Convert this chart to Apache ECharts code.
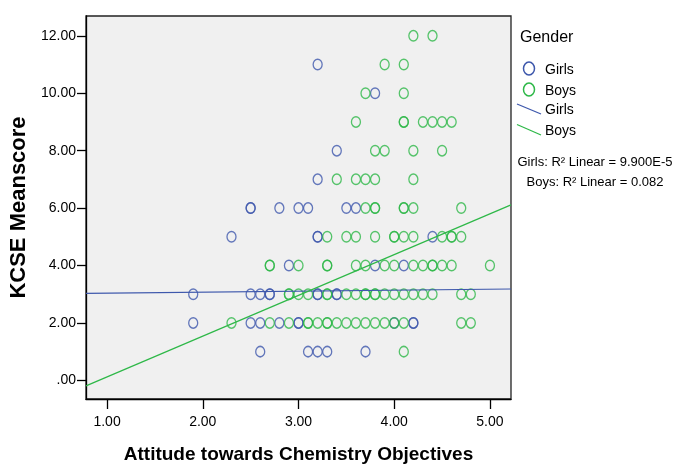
<!DOCTYPE html>
<html lang="en">
  <head>
    <meta charset="UTF-8" />
    <title>KCSE Meanscore by Attitude</title>
    <script src="https://cdn.jsdelivr.net/npm/echarts@6/dist/echarts.min.js"></script>
    <style>
      body { margin: 0; background: #fff; }
    </style>
  </head>
  <body>
    <div id="main" style="width: 680px; height: 467px"></div>
    <script type="text/javascript">
      // axis ranges and tick labels
      const xRange = [0.78, 5.22];
      const yRange = [-0.65, 12.69];
      const xTicks = [1, 2, 3, 4, 5];
      const yTicks = [0, 2, 4, 6, 8, 10, 12];

      // KCSE meanscore rows, and attitude values of the students on each row
      const scores = [1, 2, 3, 4, 5, 6, 7, 8, 9, 10, 11, 12];
      const girlsAttitude = [
        [2.6, 3.1, 3.2, 3.3, 3.7],
        [1.9, 2.5, 2.6, 2.8, 3.0, 3.0, 4.0, 4.2, 4.2],
        [1.9, 2.5, 2.6, 2.7, 2.7, 3.2, 3.2, 3.4, 3.4],
        [2.9, 3.8, 4.1],
        [2.3, 3.2, 3.2, 4.4],
        [2.5, 2.5, 2.8, 3.0, 3.1, 3.5, 3.6],
        [3.2],
        [3.4],
        [],
        [3.8],
        [3.2],
        [],
      ];
      const boysAttitude = [
        [4.1],
        [2.3, 2.7, 2.9, 3.1, 3.1, 3.2, 3.3, 3.3, 3.4, 3.5, 3.6, 3.7, 3.8, 3.9, 4.0, 4.1, 4.7, 4.8],
        [2.9, 2.9, 3.0, 3.1, 3.3, 3.3, 3.5, 3.6, 3.7, 3.7, 3.8, 3.8, 3.9, 4.0, 4.1, 4.2, 4.3, 4.4, 4.7, 4.8],
        [2.7, 2.7, 3.0, 3.3, 3.3, 3.6, 3.7, 3.9, 4.0, 4.2, 4.3, 4.4, 4.4, 4.5, 4.6, 5.0],
        [3.3, 3.5, 3.6, 3.8, 4.0, 4.0, 4.1, 4.2, 4.5, 4.6, 4.6, 4.7],
        [3.7, 3.8, 3.8, 4.1, 4.1, 4.2, 4.7],
        [3.4, 3.6, 3.7, 3.8, 4.2],
        [3.8, 3.9, 4.2, 4.5],
        [3.6, 4.1, 4.1, 4.3, 4.4, 4.5, 4.6],
        [3.7, 4.1],
        [3.9, 4.1],
        [4.2, 4.4],
      ];

      // linear fit lines (intercept, slope)
      const girlsFit = [3.004, 0.034];
      const boysFit = [-1.3, 1.42];

      const blue = "#3E58AC";
      const green = "#2EB848";
      const sans = "'Liberation Sans', Arial, sans-serif";

      function toPoints(rows) {
        let pts = [];
        rows.forEach((row, i) => {
          row.forEach((x) => pts.push([x, scores[i]]));
        });
        return pts;
      }
      function fitLine(fit) {
        return xRange.map((x) => [x, fit[0] + fit[1] * x]);
      }

      let myChart = echarts.init(document.getElementById("main"));

      let pointStyle = (c) => ({
        color: "rgba(0,0,0,0)",
        borderColor: c,
        borderWidth: 1.4,
      });
      let txt = (text, x, y, extra) => ({
        type: "text",
        x: x,
        y: y,
        style: Object.assign({ text: text, font: "14px " + sans, fill: "#000", verticalAlign: "middle" }, extra || {}),
      });

      let options = {
        animation: false,
        grid: {
          left: 86,
          top: 16,
          right: 169,
          bottom: 68,
          outerBoundsMode: "none",
          show: true,
          backgroundColor: "#f0f0f0",
          borderColor: "#222",
          borderWidth: 1.3,
        },
        xAxis: {
          type: "value",
          min: xRange[0],
          max: xRange[1],
          name: "Attitude towards Chemistry Objectives",
          nameLocation: "middle",
          nameGap: 46,
          nameTextStyle: { fontFamily: sans, fontWeight: "bold", fontSize: 19, color: "#000" },
          axisLine: { show: true, onZero: false, lineStyle: { color: "#000", width: 1.3 } },
          axisTick: { show: true, length: 10, customValues: xTicks, lineStyle: { color: "#000", width: 1.3 } },
          axisLabel: {
            customValues: xTicks,
            formatter: (v) => v.toFixed(2),
            fontFamily: sans,
            fontSize: 14,
            color: "#000",
            margin: 16,
          },
          splitLine: { show: false },
        },
        yAxis: {
          type: "value",
          min: yRange[0],
          max: yRange[1],
          name: "KCSE Meanscore",
          nameLocation: "middle",
          nameGap: 54,
          nameTextStyle: { fontFamily: sans, fontWeight: "bold", fontSize: 22, color: "#000" },
          axisLine: { show: true, onZero: false, lineStyle: { color: "#000", width: 1.3 } },
          axisTick: { show: true, length: 9, customValues: yTicks, lineStyle: { color: "#000", width: 1.3 } },
          axisLabel: {
            customValues: yTicks,
            formatter: (v) => (v === 0 ? ".00" : v.toFixed(2)),
            fontFamily: sans,
            fontSize: 14,
            color: "#000",
            margin: 10,
          },
          splitLine: { show: false },
        },
        series: [
          {
            name: "Girls",
            type: "scatter",
            symbol: "circle",
            symbolSize: [9, 10.5],
            itemStyle: pointStyle(blue),
            data: toPoints(girlsAttitude),
          },
          {
            name: "Boys",
            type: "scatter",
            symbol: "circle",
            symbolSize: [9, 10.5],
            itemStyle: pointStyle(green),
            data: toPoints(boysAttitude),
          },
          {
            name: "Girls fit",
            type: "line",
            showSymbol: false,
            lineStyle: { color: blue, width: 1.2 },
            data: fitLine(girlsFit),
          },
          {
            name: "Boys fit",
            type: "line",
            showSymbol: false,
            lineStyle: { color: green, width: 1.2 },
            data: fitLine(boysFit),
          },
        ],
        graphic: [
          txt("Gender", 520, 38, { font: "16px " + sans }),
          { type: "ellipse", shape: { cx: 529, cy: 68.5, rx: 5.5, ry: 6.5 }, style: { fill: "none", stroke: blue, lineWidth: 1.5 } },
          txt("Girls", 545, 70),
          { type: "ellipse", shape: { cx: 529, cy: 89.5, rx: 5.5, ry: 6.5 }, style: { fill: "none", stroke: green, lineWidth: 1.5 } },
          txt("Boys", 545, 91),
          { type: "line", shape: { x1: 517, y1: 104, x2: 541, y2: 114 }, style: { stroke: blue, lineWidth: 1.3 } },
          txt("Girls", 545, 110),
          { type: "line", shape: { x1: 517, y1: 124.5, x2: 541, y2: 135 }, style: { stroke: green, lineWidth: 1.3 } },
          txt("Boys", 545, 131),
          txt("Girls: R\u00b2 Linear = 9.900E-5", 595, 162.5, { align: "center", font: "13px " + sans }),
          txt("Boys: R\u00b2 Linear = 0.082", 595, 182.5, { align: "center", font: "13px " + sans }),
        ],
      };
      myChart.setOption(options);
    </script>
  </body>
</html>
